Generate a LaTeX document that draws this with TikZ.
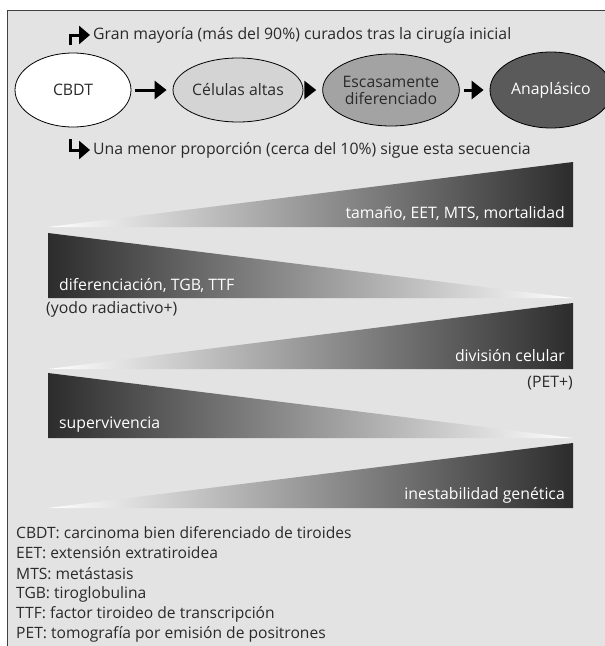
\documentclass[tikz,border=0pt]{standalone}
\usepackage{fontspec}
\setmainfont{Open Sans}
\usetikzlibrary{arrows.meta,shapes.geometric,positioning}
\definecolor{panel}{HTML}{E3E3E3}
\definecolor{ink}{HTML}{2A2A2A}
\definecolor{tallcell}{HTML}{D4D4D4}
\definecolor{poordiff}{HTML}{A3A3A3}
\definecolor{anaplas}{HTML}{5A5A5A}
\definecolor{wedgedark}{HTML}{2C2C2C}
\begin{document}
\begin{tikzpicture}[
        x=1pt, y=-1pt,
        % Define styles
        stage/.style={ellipse, draw=black, line width=0.8pt, inner sep=0pt,
            text=ink, font=\fontsize{15.8}{17}\selectfont},
        flow/.style={-{Triangle[length=12pt,width=18pt]}, line width=3pt, black,
            shorten <=4pt, shorten >=6pt},
        turn/.style={-{Triangle[length=11pt,width=18pt]}, line width=3pt, black},
        note/.style={inner sep=0pt, text=ink, font=\fontsize{15.8}{17}\selectfont},
        wedgetext/.style={inner sep=0pt, text=white, font=\fontsize{15.8}{17}\selectfont},
        wedgeup/.style={left color=white, right color=wedgedark},
        wedgedown/.style={left color=wedgedark, right color=white},
        legend/.style={inner sep=0pt, anchor=west, text=ink, font=\fontsize{15.6}{17}\selectfont}
    ]
    \useasboundingbox (0,0) rectangle (605,646);

    % --- Panel ---
    \fill[white] (0,0) rectangle (605,646);
    \draw[fill=panel, draw=black!75, line width=0.8pt] (7,10) rectangle (625,670);

    % --- Top line ---
    \coordinate (up_stem) at (70,45);
    \coordinate (up_tip) at (90,35);
    \draw[turn] (up_stem) |- (up_tip);
    \node[note, anchor=west] (major) at (93,35) {Gran mayoría (más del 90\%) curados tras la cirugía inicial};

    % --- Sequence ---
    \node[stage, fill=white, minimum width=116pt, minimum height=74pt] (cbdt) at (73,90) {CBDT};
    \node[stage, fill=tallcell, minimum width=130pt, minimum height=64pt] (tall) at (238,90) {Células altas};
    \node[stage, fill=poordiff, minimum width=122pt, minimum height=72pt, align=center] (poor) at (391,90) {Escasamente\\diferenciado};
    \node[stage, fill=anaplas, text=white, minimum width=122pt, minimum height=76pt] (anap) at (551,90) {Anaplásico};

    \draw[flow] (cbdt) -- (tall);
    \draw[flow] (tall) -- (poor);
    \draw[flow] (poor) -- (anap);

    % --- Bottom line ---
    \coordinate (down_stem) at (70,139);
    \coordinate (down_tip) at (90,150);
    \draw[turn] (down_stem) |- (down_tip);
    \node[note, anchor=west] (minor) at (93,150) {Una menor proporción (cerca del 10\%) sigue esta secuencia};

    % --- Wedges ---
    \shade[wedgeup] (48,227) -- (573,162) -- (573,227) -- cycle;
    \node[wedgetext, anchor=east] (size) at (565,214) {tamaño, EET, MTS, mortalidad};

    \shade[wedgedown] (48,233) -- (573,298) -- (48,298) -- cycle;
    \node[wedgetext, anchor=west] (diff) at (59,285) {diferenciación, TGB, TTF};
    \node[note, anchor=west] (iodine) at (46,309) {(yodo radiactivo+)};

    \shade[wedgeup] (48,369) -- (573,303) -- (573,369) -- cycle;
    \node[wedgetext, anchor=east] (division) at (565,356) {división celular};
    \node[note, anchor=east] (pet) at (573,383) {(PET+)};

    \shade[wedgedown] (48,373) -- (573,438) -- (48,438) -- cycle;
    \node[wedgetext, anchor=west] (survival) at (59,425) {supervivencia};

    \shade[wedgeup] (48,508) -- (573,443) -- (573,508) -- cycle;
    \node[wedgetext, anchor=east] (genetic) at (565,495) {inestabilidad genética};

    % --- Legend ---
    \node[legend] (l1) at (16,533) {CBDT: carcinoma bien diferenciado de tiroides};
    \node[legend] (l2) at (16,553) {EET: extensión extratiroidea};
    \node[legend] (l3) at (16,574) {MTS: metástasis};
    \node[legend] (l4) at (16,594) {TGB: tiroglobulina};
    \node[legend] (l5) at (16,614) {TTF: factor tiroideo de transcripción};
    \node[legend] (l6) at (16,634) {PET: tomografía por emisión de positrones};

\end{tikzpicture}
\end{document}
